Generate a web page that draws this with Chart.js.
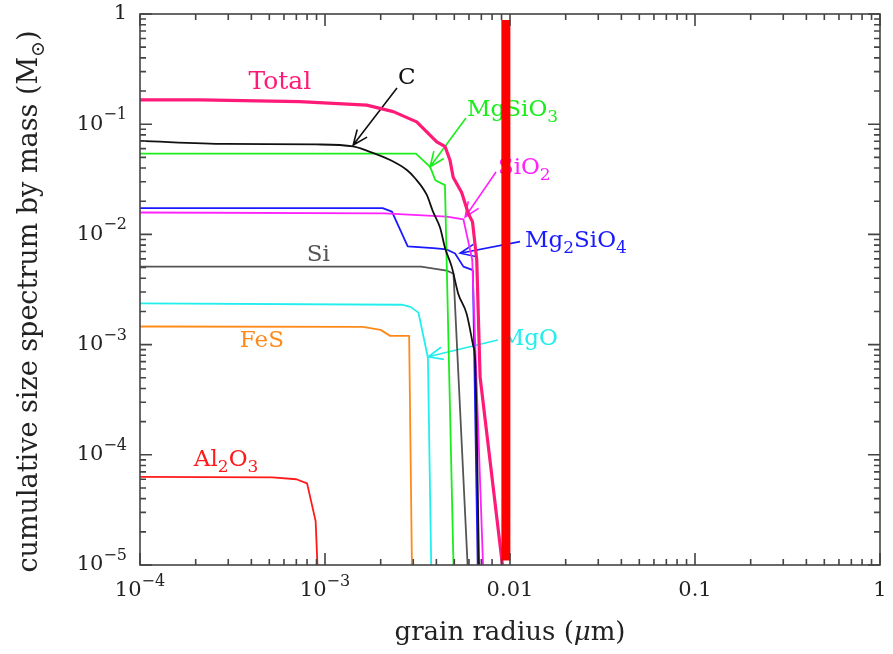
<!DOCTYPE html>
<html lang="en">
<head>
<meta charset="UTF-8">
<title>Cumulative grain size spectrum</title>
<script src="https://cdn.jsdelivr.net/npm/chart.js"></script>
<style>
  html, body { margin: 0; padding: 0; background: #fff; }
</style>
</head>
<body>
<canvas id="sizeChart" width="893" height="654"></canvas>
<script>
// grain radius (um) vs cumulative mass (Msun), one pair of arrays per species
var totalR = [1e-4, 2.1e-4, 7.3e-4, 1.68e-3, 2.34e-3, 3.13e-3, 4.02e-3, 4.46e-3, 4.74e-3, 4.93e-3, 5.48e-3, 5.95e-3, 6.27e-3, 6.61e-3, 6.89e-3, 9.1e-3];
var totalM = [0.166, 0.166, 0.160, 0.149, 0.130, 0.105, 0.069, 0.0625, 0.047, 0.033, 0.024, 0.0155, 0.013, 5.9e-3, 5.1e-4, 1e-5];

var cR = [1e-4, 2.94e-4, 9.0e-4, 1.42e-3, 1.68e-3, 2.25e-3, 2.77e-3, 3.06e-3, 3.55e-3, 3.84e-3, 4.19e-3, 4.46e-3, 4.84e-3, 5.25e-3, 5.83e-3, 6.34e-3, 6.48e-3, 6.8e-3];
var cM = [0.0705, 0.0662, 0.0655, 0.0628, 0.0575, 0.0473, 0.0384, 0.0325, 0.0228, 0.016, 0.0115, 7.5e-3, 5.1e-3, 2.9e-3, 1.9e-3, 9.6e-4, 7.2e-4, 1e-5];

var mgsio3R = [1e-4, 3.1e-3, 3.7e-3, 3.95e-3, 4.45e-3, 4.95e-3];
var mgsio3M = [0.054, 0.054, 0.041, 0.031, 0.028, 1e-5];

var sio2R = [1e-4, 2.1e-3, 4.55e-3, 5.6e-3, 6.25e-3, 7.15e-3];
var sio2M = [0.0158, 0.0155, 0.0145, 0.0137, 5.9e-3, 1e-5];

var mg2sio4R = [1e-4, 2.05e-3, 2.3e-3, 2.55e-3, 2.8e-3, 3.85e-3, 4.55e-3, 5.05e-3, 5.6e-3, 6.2e-3, 6.3e-3, 6.69e-3];
var mg2sio4M = [0.0173, 0.0173, 0.0161, 0.011, 7.8e-3, 7.5e-3, 7.3e-3, 6.7e-3, 5.1e-3, 4.8e-3, 4.7e-3, 1e-5];

var siR = [1e-4, 3.3e-3, 4.55e-3, 4.95e-3, 5.9e-3];
var siM = [5.1e-3, 5.1e-3, 4.7e-3, 4.4e-3, 1e-5];

var mgoR = [1e-4, 2.6e-3, 2.9e-3, 3.2e-3, 3.6e-3, 3.75e-3];
var mgoM = [2.37e-3, 2.3e-3, 2.2e-3, 1.95e-3, 7.6e-4, 1e-5];

var fesR = [1e-4, 1.6e-3, 2.0e-3, 2.25e-3, 2.85e-3, 2.95e-3];
var fesM = [1.46e-3, 1.45e-3, 1.36e-3, 1.2e-3, 1.2e-3, 1e-5];

var al2o3R = [1e-4, 5.2e-4, 7.0e-4, 8.0e-4, 8.9e-4, 9.1e-4];
var al2o3M = [6.3e-5, 6.25e-5, 6.0e-5, 5.5e-5, 2.5e-5, 1e-5];

// thick vertical marker near 0.01 um
var markR = [0.0095, 0.0095];
var markM = [1.1e-5, 0.88];

// tick labels, one per decade
var xDecades = [-4, -3, -2, -1, 0];
var xTickText = [[['10', ''], ['\u22124', 'sup']], [['10', ''], ['\u22123', 'sup']], [['0.01', '']], [['0.1', '']], [['1', '']]];
var yDecades = [-5, -4, -3, -2, -1, 0];
var yTickText = [[['10', ''], ['\u22125', 'sup']], [['10', ''], ['\u22124', 'sup']], [['10', ''], ['\u22123', 'sup']],
                 [['10', ''], ['\u22122', 'sup']], [['10', ''], ['\u22121', 'sup']], [['1', '']]];

var FONT = '"DejaVu Serif", "Liberation Serif", serif';
var colors = {
  total: '#ff1a78', c: '#111111', mgsio3: '#1aee1a', sio2: '#ff22ff', mg2sio4: '#1a1aff',
  si: '#555555', mgo: '#22eeee', fes: '#ff8a1a', al2o3: '#ff1a1a', mark: '#ff0000'
};

// curve labels (data coords) and arrows pointing at their curves
var curveLabels = [
  { parts: [['Total', '']], at: [5.7e-4, 0.24], align: 'center', color: colors.total, size: 25 },
  { parts: [['C', '']], at: [2.77e-3, 0.262], align: 'center', color: colors.c, size: 23 },
  { parts: [['MgSiO', ''], ['3', 'sub']], at: [5.86e-3, 0.135], align: 'left', color: colors.mgsio3, size: 23 },
  { parts: [['SiO', ''], ['2', 'sub']], at: [8.6e-3, 0.0401], align: 'left', color: colors.sio2, size: 23 },
  { parts: [['Mg', ''], ['2', 'sub'], ['SiO', ''], ['4', 'sub']], at: [0.01205, 8.7e-3], align: 'left', color: colors.mg2sio4, size: 23 },
  { parts: [['Si', '']], at: [9.2e-4, 6.5e-3], align: 'center', color: colors.si, size: 23 },
  { parts: [['MgO', '']], at: [8.9e-3, 1.12e-3], align: 'left', color: colors.mgo, size: 23 },
  { parts: [['FeS', '']], at: [4.56e-4, 1.08e-3], align: 'center', color: colors.fes, size: 23 },
  { parts: [['Al', ''], ['2', 'sub'], ['O', ''], ['3', 'sub']], at: [2.92e-4, 9.0e-5], align: 'center', color: colors.al2o3, size: 23 }
];
var curveArrows = [
  { from: [2.45e-3, 0.213], to: [1.42e-3, 0.0647], color: colors.c },
  { from: [5.78e-3, 0.114], to: [3.7e-3, 0.0411], color: colors.mgsio3 },
  { from: [8.4e-3, 0.0368], to: [5.72e-3, 0.0144], color: colors.sio2 },
  { from: [0.01133, 8.6e-3], to: [5.37e-3, 6.75e-3], color: colors.mg2sio4 },
  { from: [8.6e-3, 1.1e-3], to: [3.61e-3, 7.76e-4], color: colors.mgo }
];

function pts(r, m) {
  return r.map(function (v, i) { return { x: v, y: m[i] }; });
}

// text with superscript / subscript / italic runs
function drawRich(ctx, parts, x, y, align, size, color, ratio) {
  var small = Math.round(size * (ratio || 0.72));
  function fontFor(k) {
    return (k === 'it' ? 'italic ' : '') + (k === 'sup' || k === 'sub' ? small : size) + 'px ' + FONT;
  }
  var w = 0;
  parts.forEach(function (p) { ctx.font = fontFor(p[1]); w += ctx.measureText(p[0]).width; });
  var cx = align === 'center' ? x - w / 2 : (align === 'right' ? x - w : x);
  ctx.fillStyle = color;
  ctx.textAlign = 'left';
  ctx.textBaseline = 'middle';
  parts.forEach(function (p) {
    ctx.font = fontFor(p[1]);
    var dy = p[1] === 'sup' ? -size * 0.44 : (p[1] === 'sub' ? size * 0.32 : 0);
    ctx.fillText(p[0], cx, y + dy);
    cx += ctx.measureText(p[0]).width;
  });
}

function arrow(ctx, x1, y1, x2, y2, color) {
  var ang = Math.atan2(y2 - y1, x2 - x1), len = 16, spread = 0.4;
  ctx.save();
  ctx.strokeStyle = color;
  ctx.lineWidth = 1.6;
  ctx.beginPath();
  ctx.moveTo(x1, y1);
  ctx.lineTo(x2, y2);
  ctx.moveTo(x2 - len * Math.cos(ang - spread), y2 - len * Math.sin(ang - spread));
  ctx.lineTo(x2, y2);
  ctx.lineTo(x2 - len * Math.cos(ang + spread), y2 - len * Math.sin(ang + spread));
  ctx.stroke();
  ctx.restore();
}

// labels and arrows go under the curves
var annotations = {
  id: 'annotations',
  beforeDatasetsDraw: function (chart) {
    var ctx = chart.ctx, xs = chart.scales.x, ys = chart.scales.y;
    curveArrows.forEach(function (a) {
      arrow(ctx, xs.getPixelForValue(a.from[0]), ys.getPixelForValue(a.from[1]),
                 xs.getPixelForValue(a.to[0]), ys.getPixelForValue(a.to[1]), a.color);
    });
    curveLabels.forEach(function (l) {
      drawRich(ctx, l.parts, xs.getPixelForValue(l.at[0]), ys.getPixelForValue(l.at[1]), l.align, l.size, l.color);
    });
  }
};

// boxed frame with inward ticks on all four sides, plus axis labels
var frame = {
  id: 'frame',
  afterDraw: function (chart) {
    var ctx = chart.ctx, a = chart.chartArea, xs = chart.scales.x, ys = chart.scales.y;
    ctx.save();
    ctx.strokeStyle = '#444';
    ctx.lineWidth = 1.6;
    ctx.strokeRect(a.left, a.top, a.right - a.left, a.bottom - a.top);
    ctx.beginPath();
    var e, m, v, p, len;
    for (e = -4; e <= 0; e++) {
      for (m = 1; m <= 9; m++) {
        if (e === 0 && m > 1) break;
        v = m * Math.pow(10, e);
        p = xs.getPixelForValue(v);
        len = m === 1 ? 12 : 6;
        ctx.moveTo(p, a.bottom); ctx.lineTo(p, a.bottom - len);
        ctx.moveTo(p, a.top); ctx.lineTo(p, a.top + len);
      }
    }
    for (e = -5; e <= 0; e++) {
      for (m = 1; m <= 9; m++) {
        if (e === 0 && m > 1) break;
        v = m * Math.pow(10, e);
        p = ys.getPixelForValue(v);
        len = m === 1 ? 12 : 6;
        ctx.moveTo(a.left, p); ctx.lineTo(a.left + len, p);
        ctx.moveTo(a.right, p); ctx.lineTo(a.right - len, p);
      }
    }
    ctx.stroke();

    xDecades.forEach(function (d, i) {
      drawRich(ctx, xTickText[i], xs.getPixelForValue(Math.pow(10, d)), a.bottom + 26, 'center', 21, '#222', 0.78);
    });
    yDecades.forEach(function (d, i) {
      drawRich(ctx, yTickText[i], a.left - 13, ys.getPixelForValue(Math.pow(10, d)), 'right', 21, '#222', 0.78);
    });

    drawRich(ctx, [['grain radius (', ''], ['\u03bc', 'it'], ['m)', '']], (a.left + a.right) / 2, a.bottom + 68, 'center', 26, '#222');
    ctx.translate(30, (a.top + a.bottom) / 2 + 12);
    ctx.rotate(-Math.PI / 2);
    drawRich(ctx, [['cumulative size spectrum by mass (M', ''], ['\u2299', 'sub'], [')', '']], 0, 0, 'center', 27, '#222');
    ctx.restore();
  }
};

function series(r, m, color, width) {
  return { data: pts(r, m), borderColor: color, borderWidth: width, pointRadius: 0, fill: false, tension: 0, borderJoinStyle: 'round' };
}

var cSeries = series(cR, cM, colors.c, 1.8);
cSeries.cubicInterpolationMode = 'monotone';

var ctx = document.getElementById('sizeChart').getContext('2d');
var chart = new Chart(ctx, {
  type: 'line',
  data: {
    datasets: [
      series(markR, markM, colors.mark, 9),
      series(totalR, totalM, colors.total, 3.2),
      cSeries,
      series(mgsio3R, mgsio3M, colors.mgsio3, 1.8),
      series(sio2R, sio2M, colors.sio2, 1.8),
      series(mg2sio4R, mg2sio4M, colors.mg2sio4, 1.8),
      series(siR, siM, colors.si, 1.8),
      series(mgoR, mgoM, colors.mgo, 1.8),
      series(fesR, fesM, colors.fes, 1.8),
      series(al2o3R, al2o3M, colors.al2o3, 1.8)
    ]
  },
  options: {
    responsive: false,
    animation: false,
    layout: { padding: { left: 0, right: 13, top: 14, bottom: 0 } },
    plugins: { legend: { display: false }, tooltip: { enabled: false } },
    scales: {
      x: {
        type: 'logarithmic', min: 1e-4, max: 1,
        grid: { display: false }, border: { display: false }, ticks: { display: false },
        afterFit: function (s) { s.height = 89; }
      },
      y: {
        type: 'logarithmic', min: 1e-5, max: 1,
        grid: { display: false }, border: { display: false }, ticks: { display: false },
        afterFit: function (s) { s.width = 140; }
      }
    }
  },
  plugins: [annotations, frame]
});
</script>
</body>
</html>
